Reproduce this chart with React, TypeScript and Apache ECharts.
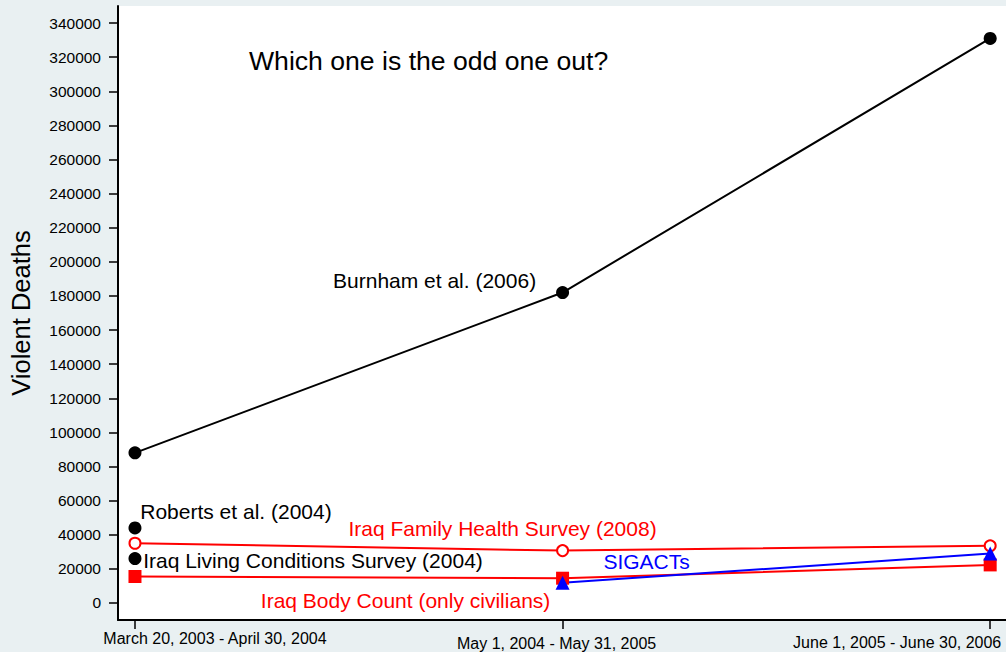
import React, { useEffect, useRef } from "react";
import * as echarts from "echarts";

const periods = [
  "March 20, 2003 - April 30, 2004",
  "May 1, 2004 - May 31, 2005",
  "June 1, 2005 - June 30, 2006",
];
const burnham = [88000, 182000, 331000];
const roberts = [44000, null, null];
const ilcs = [26000, null, null];
const ifhs = [35000, 30700, 33500];
const ibc = [15500, 14500, 22300];
const sigacts = [null, 11800, 29000];
const yTicks = [0, 20000, 40000, 60000, 80000, 100000, 120000, 140000, 160000, 180000, 200000, 220000, 240000, 260000, 280000, 300000, 320000, 340000];

const FONT = "'Liberation Sans', Arial, Helvetica, sans-serif";

type Lbl = { idx: number; text: string; offset: number[]; color: string };

function mk(vals: (number | null)[], lbl?: Lbl) {
  const out: any[] = [];
  vals.forEach((v, i) => {
    if (v === null) return;
    const item: any = { value: [i, v] };
    if (lbl && lbl.idx === i) {
      item.label = {
        show: true,
        position: "inside",
        formatter: lbl.text,
        offset: lbl.offset,
        color: lbl.color,
        fontSize: 21,
        fontFamily: FONT,
      };
    }
    out.push(item);
  });
  return out;
}

export default function App() {
  const ref = useRef<HTMLDivElement>(null);
  useEffect(() => {
    if (!ref.current) return;
    const chart = echarts.init(ref.current, null, { renderer: "svg" });
    const xPad = [
      [0, 0, 0, 160],
      [5, 12, 0, 0],
      [4, 186, 0, 0],
    ];
    const rich: any = {};
    xPad.forEach((p, i) => {
      rich["p" + i] = { padding: p, fontSize: 16, fontFamily: FONT, color: "#000" };
    });
    chart.setOption({
      animation: false,
      backgroundColor: "#e9f0f2",
      title: {
        text: "Which one is the odd one out?",
        left: 249,
        top: 47,
        padding: 0,
        textStyle: { fontSize: 26.6, fontWeight: "normal", color: "#000", fontFamily: FONT },
      },
      grid: {
        left: 116,
        right: 0,
        top: 6,
        bottom: 32,
        show: true,
        backgroundColor: "#ffffff",
        borderWidth: 0,
      },
      xAxis: {
        type: "value",
        min: -0.0397,
        max: 2.037,
        splitLine: { show: false },
        axisLine: { show: true, onZero: false, lineStyle: { color: "#000", width: 2 } },
        axisTick: { show: true, customValues: [0, 1, 2], length: 9, lineStyle: { color: "#000", width: 1.5 } },
        axisLabel: {
          customValues: [0, 1, 2],
          margin: 10,
          formatter: (v: number) => {
            const i = Math.round(v);
            return "{p" + i + "|" + periods[i] + "}";
          },
          rich,
        },
      },
      yAxis: {
        type: "value",
        min: -10000,
        max: 350000,
        name: "Violent Deaths",
        nameLocation: "middle",
        nameGap: 84,
        nameTextStyle: { fontSize: 25.5, color: "#000", fontFamily: FONT },
        splitLine: { show: false },
        axisLine: { show: true, onZero: false, lineStyle: { color: "#000", width: 2 } },
        axisTick: { show: true, customValues: yTicks, length: 9, lineStyle: { color: "#000", width: 1.5 } },
        axisLabel: {
          customValues: yTicks,
          margin: 17,
          fontSize: 15.5,
          color: "#000",
          fontFamily: FONT,
          formatter: (v: number) => String(v),
        },
      },
      series: [
        {
          type: "line",
          data: mk(burnham, { idx: 1, text: "Burnham et al. (2006)", offset: [-128, -12], color: "#000" }),
          symbol: "circle",
          symbolSize: 13,
          itemStyle: { color: "#000" },
          lineStyle: { color: "#000", width: 2 },
        },
        {
          type: "line",
          data: mk(roberts, { idx: 0, text: "Roberts et al. (2004)", offset: [101, -16], color: "#000" }),
          symbol: "circle",
          symbolSize: 13,
          itemStyle: { color: "#000" },
        },
        {
          type: "line",
          data: mk(ilcs, { idx: 0, text: "Iraq Living Conditions Survey (2004)", offset: [178, 2], color: "#000" }),
          symbol: "circle",
          symbolSize: 13,
          itemStyle: { color: "#000" },
        },
        {
          type: "line",
          data: mk(ifhs, { idx: 1, text: "Iraq Family Health Survey (2008)", offset: [-60, -22], color: "#ff0000" }),
          symbol: "circle",
          symbolSize: 11,
          itemStyle: { color: "#fff", borderColor: "#ff0000", borderWidth: 2 },
          lineStyle: { color: "#ff0000", width: 2 },
        },
        {
          type: "line",
          data: mk(ibc, { idx: 1, text: "Iraq Body Count (only civilians)", offset: [-157, 22], color: "#ff0000" }),
          symbol: "rect",
          symbolSize: 13,
          itemStyle: { color: "#ff0000" },
          lineStyle: { color: "#ff0000", width: 2 },
        },
        {
          type: "line",
          data: mk(sigacts, { idx: 1, text: "SIGACTs", offset: [84, -21], color: "#0000ff" }),
          symbol: "triangle",
          symbolSize: 14,
          itemStyle: { color: "#0000ff" },
          lineStyle: { color: "#0000ff", width: 2 },
        },
      ],
    });
    return () => chart.dispose();
  }, []);
  return <div ref={ref} style={{ width: 1006, height: 652, position: "fixed", left: 0, top: 0 }} />;
}
